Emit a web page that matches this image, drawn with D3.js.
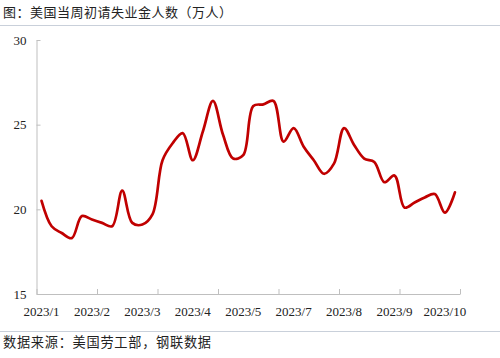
<!DOCTYPE html>
<html>
<head>
<meta charset="utf-8">
<script src="https://cdn.jsdelivr.net/npm/d3@7"></script>
<style>
  html, body { margin: 0; padding: 0; background: #fff; }
  svg { display: block; }
</style>
</head>
<body>
<svg id="chart" width="500" height="358"></svg>
<script>
// ---- data ----
const weeks = ["2023-01-07","2023-01-14","2023-01-21","2023-01-28","2023-02-04","2023-02-11","2023-02-18","2023-02-25",
  "2023-03-04","2023-03-11","2023-03-18","2023-03-25","2023-04-01","2023-04-08","2023-04-15","2023-04-22","2023-04-29",
  "2023-05-06","2023-05-13","2023-05-20","2023-05-27","2023-06-03","2023-06-10","2023-06-17","2023-06-24",
  "2023-07-01","2023-07-08","2023-07-15","2023-07-22","2023-07-29","2023-08-05","2023-08-12","2023-08-19","2023-08-26",
  "2023-09-02","2023-09-09","2023-09-16","2023-09-23","2023-09-30","2023-10-07","2023-10-14","2023-10-21"];
const claims = [20.5, 19.0, 18.6, 18.3, 19.6, 19.4, 19.2, 19.0, 21.1, 19.2, 19.1, 19.7,
  22.9, 23.9, 24.5, 22.9, 24.6, 26.4, 24.4, 23.0, 23.2, 26.1, 26.2, 26.4, 24.0,
  24.8, 23.7, 22.9, 22.1, 22.7, 24.8, 23.8, 23.0, 22.8, 21.6, 22.0, 20.1, 20.4, 20.7, 20.9, 19.8, 21.0];
const yTicks = [15, 20, 25, 30];
const labelEvery = 5;
const tickEvery = 6;
const titleText = "图：美国当周初请失业金人数（万人）";
const sourceText = "数据来源：美国劳工部，钢联数据";

// ---- drawing ----
const svg = d3.select("#chart");
const L = 36.5, R = 460, T = 40, B = 294;
const n = weeks.length;

const x = d3.scaleLinear().domain([0, n]).range([L, R]);
const y = d3.scaleLinear().domain([15, 30]).range([B, T]);

const cjk = "'Noto Sans CJK SC', 'Noto Sans', sans-serif";
const serif = "'Liberation Serif', 'DejaVu Serif', serif";

// title & separator lines
svg.append("text").attr("x", 3).attr("y", 17)
  .attr("font-family", cjk).attr("font-size", 13).attr("fill", "#222")
  .attr("textLength", 229).attr("lengthAdjust", "spacing")
  .text(titleText);
svg.append("line").attr("x1", 0).attr("x2", 500).attr("y1", 25.5).attr("y2", 25.5)
  .attr("stroke", "#c9d0da").attr("stroke-width", 1.2);
svg.append("line").attr("x1", 0).attr("x2", 500).attr("y1", 331.5).attr("y2", 331.5)
  .attr("stroke", "#c9d0da").attr("stroke-width", 1.2);
svg.append("text").attr("x", 3).attr("y", 347)
  .attr("font-family", cjk).attr("font-size", 13.2).attr("fill", "#222")
  .attr("textLength", 208).attr("lengthAdjust", "spacing")
  .text(sourceText);

// y axis
const yAxis = svg.append("g").attr("transform", `translate(${L},0)`)
  .call(d3.axisLeft(y).tickValues(yTicks).tickSize(-4).tickPadding(10).tickSizeOuter(0));
yAxis.select(".domain").attr("stroke", "#bfbfbf");
yAxis.selectAll(".tick line").attr("stroke", "#bfbfbf");
yAxis.selectAll(".tick text").attr("font-family", serif).attr("font-size", 13).attr("fill", "#222");

// x axis: ticks at category boundaries
const xAxis = svg.append("g").attr("transform", `translate(0,${B})`)
  .call(d3.axisBottom(x).tickValues(d3.range(0, n + 1, tickEvery)).tickSize(-5).tickFormat("").tickSizeOuter(0));
xAxis.select(".domain").attr("stroke", "#bfbfbf");
xAxis.selectAll(".tick line").attr("stroke", "#bfbfbf");

// x labels centred on categories
const fmt = d => { const p = d.split("-"); return p[0] + "/" + (+p[1]); };
svg.append("g").selectAll("text")
  .data(weeks.map((w, i) => ({ w, i })).filter(d => d.i % labelEvery === 0))
  .join("text")
  .attr("x", d => x(d.i + 0.5)).attr("y", 316)
  .attr("text-anchor", "middle")
  .attr("font-family", serif).attr("font-size", 13).attr("fill", "#222")
  .text(d => fmt(d.w));

// line
const line = d3.line()
  .x((d, i) => x(i + 0.5))
  .y(d => y(d))
  .curve(d3.curveCatmullRom.alpha(0.5));
svg.append("path").datum(claims)
  .attr("d", line)
  .attr("fill", "none")
  .attr("stroke", "#c00000")
  .attr("stroke-width", 2.7)
  .attr("stroke-linejoin", "round")
  .attr("stroke-linecap", "round");
</script>
</body>
</html>
